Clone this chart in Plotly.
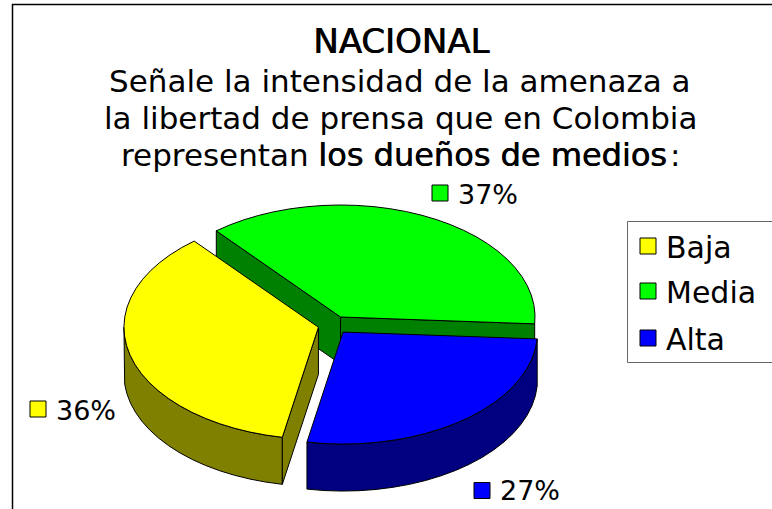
import numpy as np
import plotly.graph_objects as go

# --- data -----------------------------------------------------------------
categories = ["Baja", "Media", "Alta"]
values = [36, 37, 27]
value_labels = ["36%", "37%", "27%"]
title_main = "NACIONAL"
title_lines = ["Señale la intensidad de la amenaza a", "la libertad de prensa que en Colombia"]
title_plain = "representan "
title_bold = "los dueños de medios"
title_end = ":"

# --- style ----------------------------------------------------------------
top_colors = {"Baja": "#ffff00", "Media": "#00ff00", "Alta": "#0000ff"}
side_colors = {"Baja": "#808000", "Media": "#008000", "Alta": "#000080"}
FONT = "DejaVu Sans"
CX, CY, RX, RY, DEPTH, EXPLODE = 333.5, 325.0, 194.5, 112.0, 47.0, 0.08
START = 3.5  # clockwise-from-east screen angle where Alta starts
STEP = 5.0

# slices run clockwise from START in the order Alta, Baja, Media
order = ["Alta", "Baja", "Media"]
val = dict(zip(categories, values))
total = sum(values)
span = {}
a = START
for c in order:
    b = a + 360.0 * val[c] / total
    span[c] = (a, b)
    a = b


def pt(ang, ox, oy, dz=0.0):
    r = np.radians(ang)
    return ox + RX * np.cos(r), oy + RY * np.sin(r) + dz


def apex(c):
    a0, a1 = span[c]
    m = np.radians((a0 + a1) / 2)
    return CX + EXPLODE * RX * np.cos(m), CY + EXPLODE * RY * np.sin(m)


def arc(a0, a1):
    n = max(2, int(round((a1 - a0) / STEP)) + 1)
    return np.linspace(a0, a1, n)


fig = go.Figure()


def poly(xs, ys, color):
    fig.add_trace(go.Scatter(x=list(xs), y=list(ys), mode="lines", fill="toself",
                             fillcolor=color, line=dict(color="black", width=1),
                             hoverinfo="skip", showlegend=False))


def radial_wall(c, ang):
    ox, oy = apex(c)
    ex, ey = pt(ang, ox, oy)
    poly([ox, ex, ex, ox, ox], [oy, ey, ey + DEPTH, oy + DEPTH, oy], side_colors[c])


def outer_wall(c):
    ox, oy = apex(c)
    a0, a1 = span[c]
    # the rim faces the viewer only on the near half of the ellipse
    lo, hi = max(a0, 0.0), min(a1, 180.0)
    if hi <= lo:
        return
    angs = arc(lo, hi)
    tx, ty = zip(*[pt(t, ox, oy) for t in angs])
    bx, by = zip(*[pt(t, ox, oy, DEPTH) for t in angs[::-1]])
    poly(list(tx) + list(bx) + [tx[0]], list(ty) + list(by) + [ty[0]], side_colors[c])


def top(c):
    ox, oy = apex(c)
    a0, a1 = span[c]
    px, py = zip(*[pt(t, ox, oy) for t in arc(a0, a1)])
    poly([ox] + list(px) + [ox], [oy] + list(py) + [oy], top_colors[c])


# painter's order: back slice first
radial_wall("Media", span["Media"][0])
radial_wall("Media", span["Media"][1])
top("Media")
outer_wall("Baja")
radial_wall("Baja", span["Baja"][0])
top("Baja")
outer_wall("Alta")
top("Alta")

# square keys: value labels and legend
key_xy = {"Baja": (38, 409), "Media": (440, 193), "Alta": (482, 490.5)}
label_xy = {"Baja": (54, 410), "Media": (456, 194), "Alta": (498, 490)}
legend_rows = {"Baja": 246, "Media": 291, "Alta": 338}
for c, txt in zip(categories, value_labels):
    x, y = key_xy[c]
    fig.add_trace(go.Scatter(x=[x, 648], y=[y, legend_rows[c]], mode="markers",
                             marker=dict(symbol="square", size=16, color=top_colors[c],
                                         line=dict(color="black", width=1)),
                             hoverinfo="skip", showlegend=False))


def note(x, y, text, size=31, anchor="center", shadow=None):
    font = dict(family=FONT, size=size, color="black")
    if shadow:
        font["shadow"] = shadow
    fig.add_annotation(x=x, y=y, xref="x", yref="y", text=text, showarrow=False,
                       xanchor=anchor, yanchor="middle", font=font)


FAUX = "0.7px 0 0 black"
note(401, 41, title_main, size=34, shadow=FAUX)
note(400, 81, title_lines[0])
note(400, 118, title_lines[1])
note(311, 155, title_plain.strip(), anchor="right")
note(316, 155, title_bold, size=32, anchor="left", shadow=FAUX)
note(668, 155, title_end, anchor="left")
for c, txt in zip(categories, value_labels):
    note(label_xy[c][0], label_xy[c][1], txt, size=27, anchor="left")
    note(664, legend_rows[c] + 1, c, size=30, anchor="left")

# chart frame and legend box
fig.add_shape(type="path", path="M 12.5 520 L 12.5 4.5 L 780 4.5", xref="x", yref="y",
              line=dict(color="black", width=1.5))
fig.add_shape(type="path", path="M 780 221.5 L 627.5 221.5 L 627.5 362.5 L 780 362.5", xref="x", yref="y",
              line=dict(color="#666666", width=1))

fig.update_layout(width=772, height=509, margin=dict(l=0, r=0, t=0, b=0),
                  paper_bgcolor="white", plot_bgcolor="white", showlegend=False,
                  xaxis=dict(range=[0, 772], visible=False, fixedrange=True),
                  yaxis=dict(range=[509, 0], visible=False, fixedrange=True))
fig.write_html("out.html", config=dict(displayModeBar=False),
               post_script="document.body.style.margin='0';document.body.style.overflow='hidden';")
